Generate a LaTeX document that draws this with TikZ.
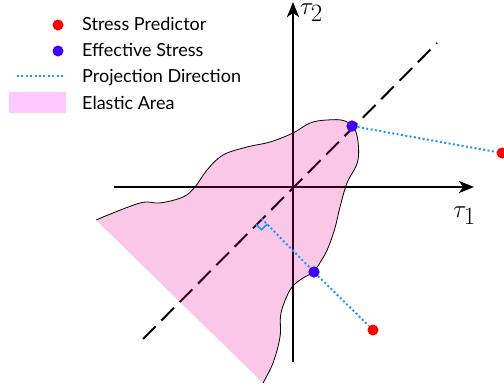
\documentclass[tikz,border=0pt]{standalone}
\usepackage{fontspec}
\setsansfont{Lato}
\usetikzlibrary{arrows.meta,calc}
\definecolor{predred}{RGB}{255,0,0}
\definecolor{effblue}{RGB}{64,0,255}
\definecolor{projblue}{RGB}{30,150,255}
\definecolor{elastic}{RGB}{255,200,255}
\begin{document}
\begin{tikzpicture}[x=1pt,y=-1pt,
  axis/.style={line width=2pt,-{Stealth[length=15pt,width=12pt,inset=4pt]}},
  diag/.style={line width=2pt,dash pattern=on 18pt off 8pt},
  dot/.style={circle,inner sep=0pt,minimum size=11pt},
  reddot/.style={dot,fill=predred},
  bluedot/.style={dot,fill=effblue},
  proj/.style={projblue,line width=2pt,dash pattern=on 2pt off 2.4pt},
  elasticfill/.style={fill=magenta,fill opacity=0.22},
  legtext/.style={anchor=base west,inner sep=0pt,font=\sffamily\fontsize{18}{21}\selectfont},
  taulabel/.style={anchor=base west,inner sep=0pt,font=\fontsize{35}{37}\selectfont}]
\useasboundingbox (0,0) rectangle (504,391);
\clip (0,0) rectangle (504,391);

% legend
\node[reddot] (lr) at (58,25) {};
\node[legtext] (lt1) at (82,30) {Stress Predictor};
\node[bluedot] (lb) at (58,51) {};
\node[legtext] (lt2) at (82,56) {Effective Stress};
\coordinate (lpa) at (17,76);
\coordinate (lpb) at (63,76);
\draw[proj] (lpa) -- (lpb);
\node[legtext] (lt3) at (82,82) {Projection Direction};
\fill[elastic] (9,92) rectangle (66,113);
\node[legtext] (lt4) at (82,109) {Elastic Area};

% axes
\coordinate (O) at (293,187);
\coordinate (xs) at (114,187);
\coordinate (xe) at (474,187);
\coordinate (ys) at (293,362);
\coordinate (ye) at (293,2);
\draw[axis] (xs) -- (xe);
\draw[axis] (ys) -- (ye);
\node[taulabel] (t1) at (453,217) {$\tau_1$};
\node[taulabel] (t2) at (300,14) {$\tau_2$};

% diagonal
\coordinate (da) at (143,339);
\coordinate (db) at (437,43);
\draw[diag] (da) -- (db);

% elastic region
\fill[elasticfill] plot[smooth,tension=0.6] coordinates {(96,220) (140,203) (160,203) (183,197) (195,187) (207,170) (223,155) (247,147) (270,142) (293,133) (310,123) (327,120) (345,121) (356,132) (358,160) (347,183) (340,207) (335,228) (328,248) (321,261) (313,272) (300,280) (290,290) (281,313) (280,337) (273,363) (263,383)} -- cycle;
\draw[line width=0.8pt] plot[smooth,tension=0.6] coordinates {(96,220) (140,203) (160,203) (183,197) (195,187) (207,170) (223,155) (247,147) (270,142) (293,133) (310,123) (327,120) (345,121) (356,132) (358,160) (347,183) (340,207) (335,228) (328,248) (321,261) (313,272) (300,280) (290,290) (281,313) (280,337) (273,363) (263,383)};

% projections
\coordinate (F) at (261.5,218.5);
\node[bluedot] (e1) at (352,126) {};
\node[reddot] (p1) at (502,153) {};
\node[bluedot] (e2) at (314,272) {};
\node[reddot] (p2) at (373,330) {};
\draw[proj] (e1) -- (p1);
\draw[proj] (F) -- (e2);
\draw[proj] (e2) -- (p2);
\draw[projblue,line width=1.6pt] ($(F)+(-5.7,5.7)$) -- ($(F)+(0,11.3)$) -- ($(F)+(5.7,5.7)$);
\node[bluedot] at (e2) {};
\node[bluedot] at (e1) {};
\end{tikzpicture}
\end{document}
